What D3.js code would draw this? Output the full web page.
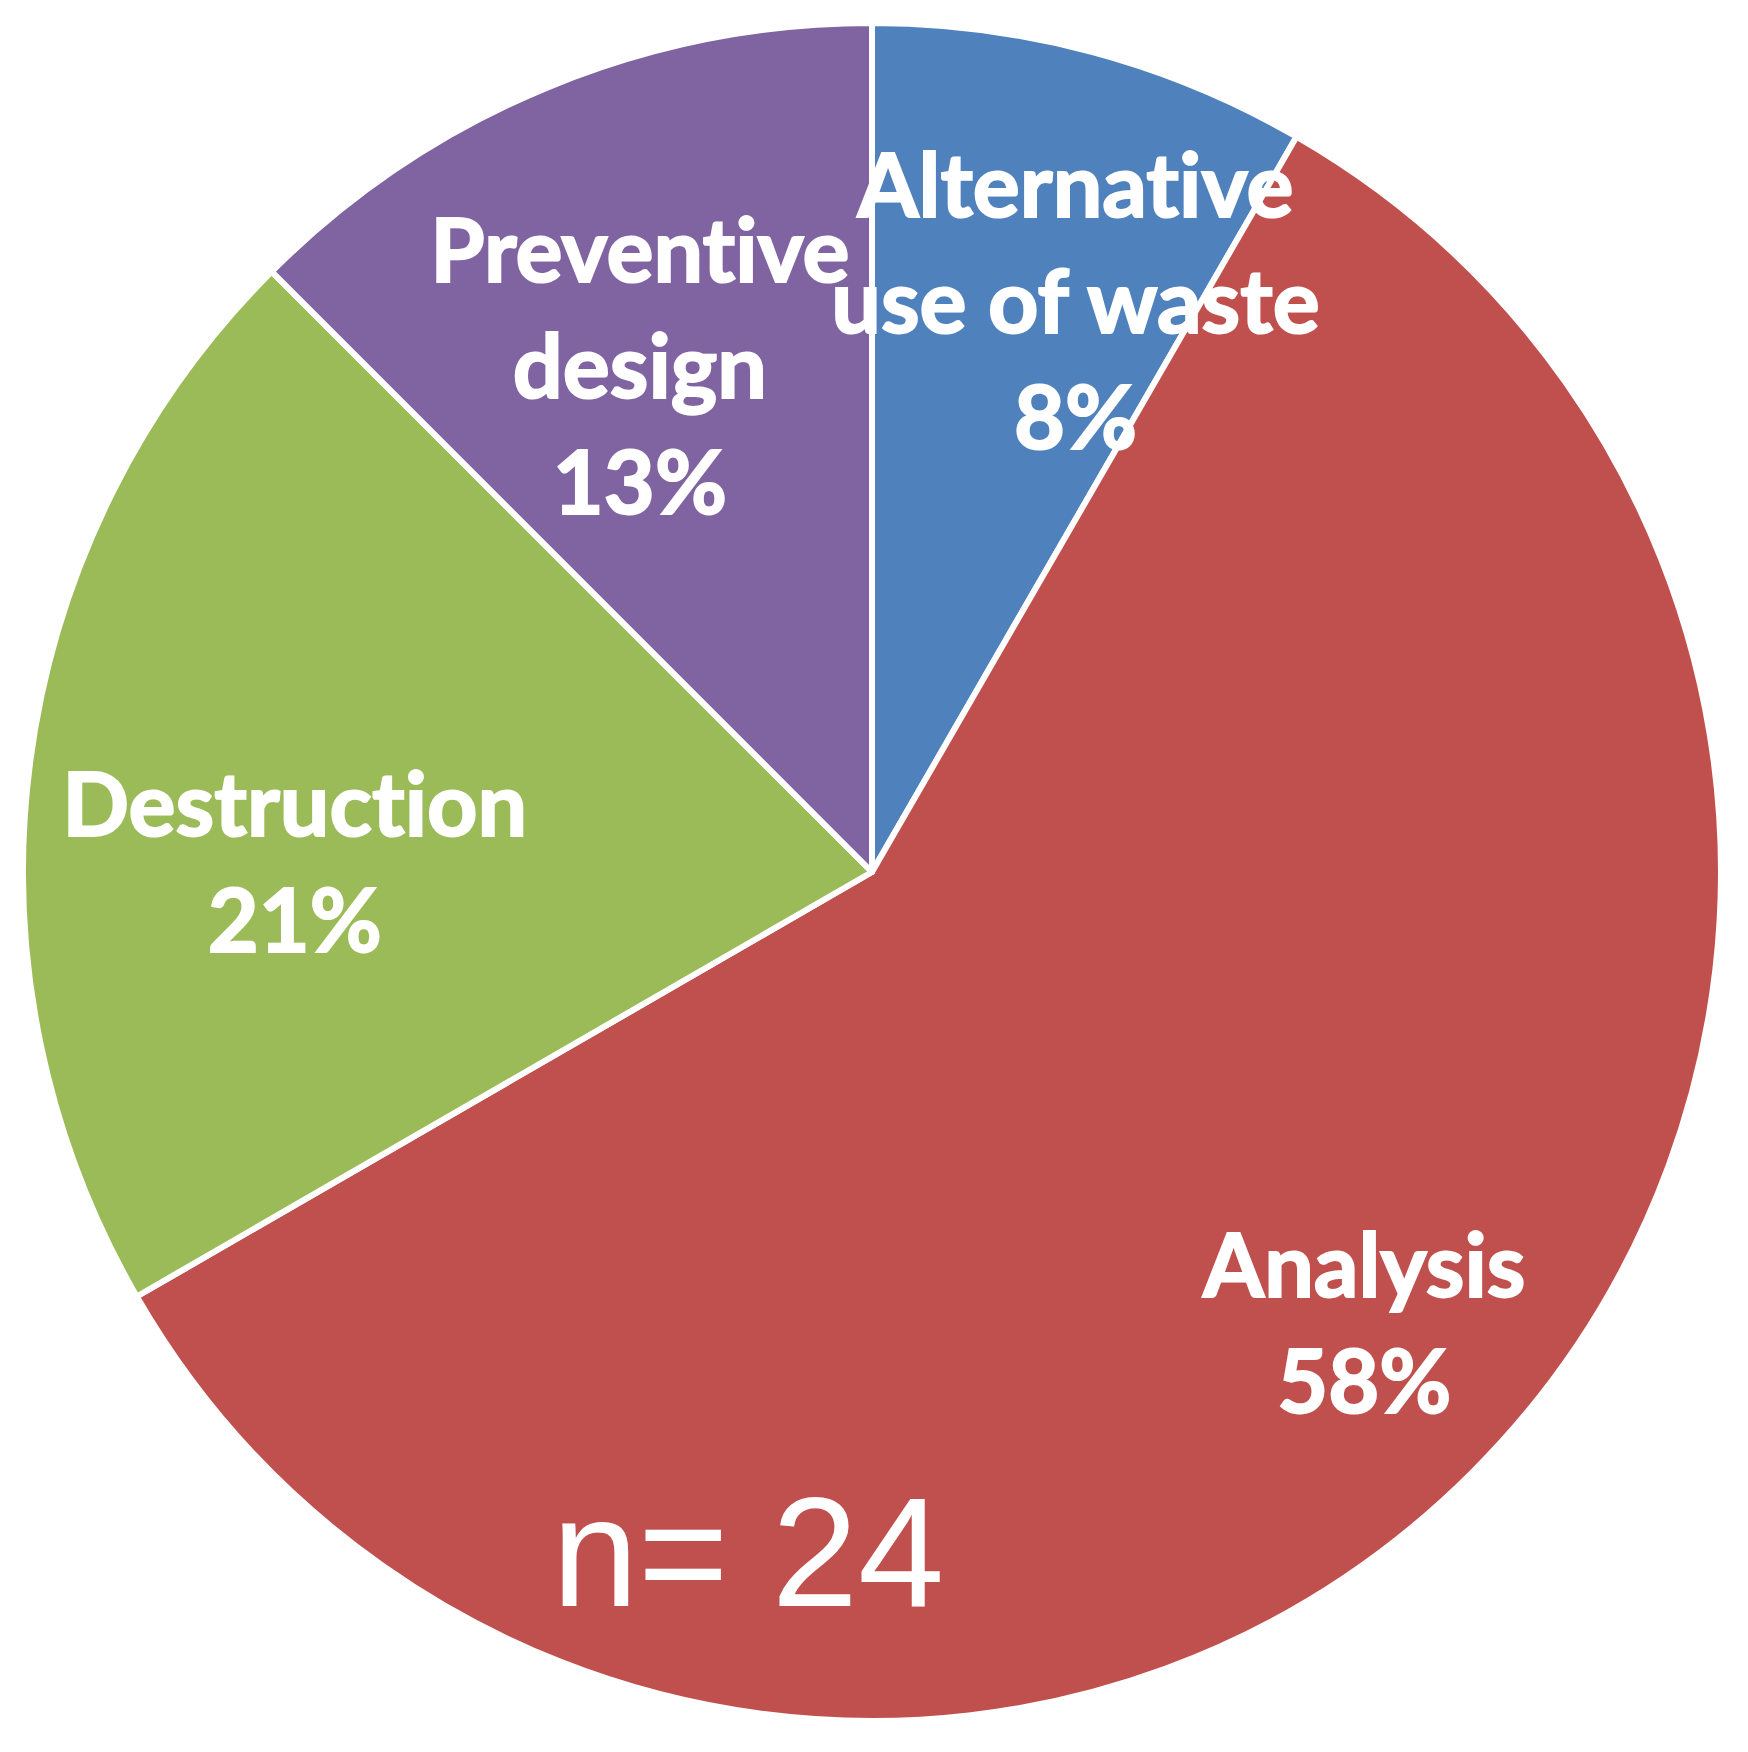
<!DOCTYPE html>
<html lang="en">

<head>
    <meta charset="UTF-8">
    <title>Pie chart</title>
    <script src="https://cdn.jsdelivr.net/npm/d3@7/dist/d3.min.js"></script>

    <style>

        body {
            margin: 0;
            background: #fff;
        }

        .slices path {
            stroke: #fff;
            stroke-width: 6px;
            stroke-linejoin: round;
        }

        .labels text {
            fill: #fff;
            stroke: #fff;
            stroke-width: 2px;
            font-family: Lato, "Open Sans", sans-serif;
            font-weight: bold;
            font-size: 88px;
            font-variant-ligatures: none;
            font-feature-settings: "liga" 0, "clig" 0;
        }

        .note {
            fill: #fff;
            font-family: "Liberation Sans", Arial, sans-serif;
            font-size: 155px;
        }

    </style>

</head>

<body>

    <svg width="1748" height="1752"></svg>

    <script>

        // data (n = 24 answers)
        var categories = ["Alternative use of waste", "Analysis", "Destruction", "Preventive design"];
        var labelLines = [["Alternative", "use of waste"], ["Analysis"], ["Destruction"], ["Preventive", "design"]];
        var counts = [2, 14, 5, 3];
        var colors = ["#4F81BD", "#C0504D", "#9BBB59", "#8064A2"];
        var sampleNote = "n= 24";

        // where each label sits: share of the radius and a small turn (degrees) from the slice middle
        var labelRadius = [0.711, 0.789, 0.68, 0.653];
        var labelTurn = [4.7, -2.3, -6.8, -2.25];

        var svg = d3.select("svg"),
            cx = 872,
            cy = 872,
            radius = 849,
            lineHeight = 116,
            capHalf = 29;

        var total = d3.sum(counts);

        var rows = categories.map(function(c, i) {
            return { name: c, lines: labelLines[i], value: counts[i], color: colors[i], i: i };
        });

        var pie = d3.pie()
            .sort(null)
            .value(function(d) { return d.value; });

        var arc = d3.arc()
            .innerRadius(0)
            .outerRadius(radius);

        var g = svg.append("g")
            .attr("transform", "translate(" + cx + "," + cy + ")");

        var arcs = pie(rows);

        g.append("g")
            .attr("class", "slices")
            .selectAll("path")
            .data(arcs)
            .enter().append("path")
            .attr("d", arc)
            .attr("fill", function(d) { return d.data.color; });

        var label = g.append("g")
            .attr("class", "labels")
            .selectAll("text")
            .data(arcs)
            .enter().append("text")
            .attr("text-anchor", "middle")
            .attr("transform", function(d) {
                var i = d.data.i,
                    mid = (d.startAngle + d.endAngle) / 2 + labelTurn[i] * Math.PI / 180,
                    r = radius * labelRadius[i],
                    p = d3.arc().innerRadius(r).outerRadius(r).startAngle(mid).endAngle(mid).centroid();
                var n = d.data.lines.length + 1;
                var firstBase = p[1] + capHalf - (n - 1) * lineHeight / 2;
                return "translate(" + p[0] + "," + firstBase + ")";
            });

        label.each(function(d) {
            var t = d3.select(this);
            var lines = d.data.lines.concat([Math.round(d.data.value / total * 100) + "%"]);
            lines.forEach(function(line, k) {
                t.append("tspan")
                    .attr("x", 0)
                    .attr("y", k * lineHeight)
                    .text(line);
            });
        });

        g.append("text")
            .attr("class", "note")
            .attr("text-anchor", "middle")
            .attr("x", -124)
            .attr("y", 734)
            .text(sampleNote);

    </script>

</body>

</html>
